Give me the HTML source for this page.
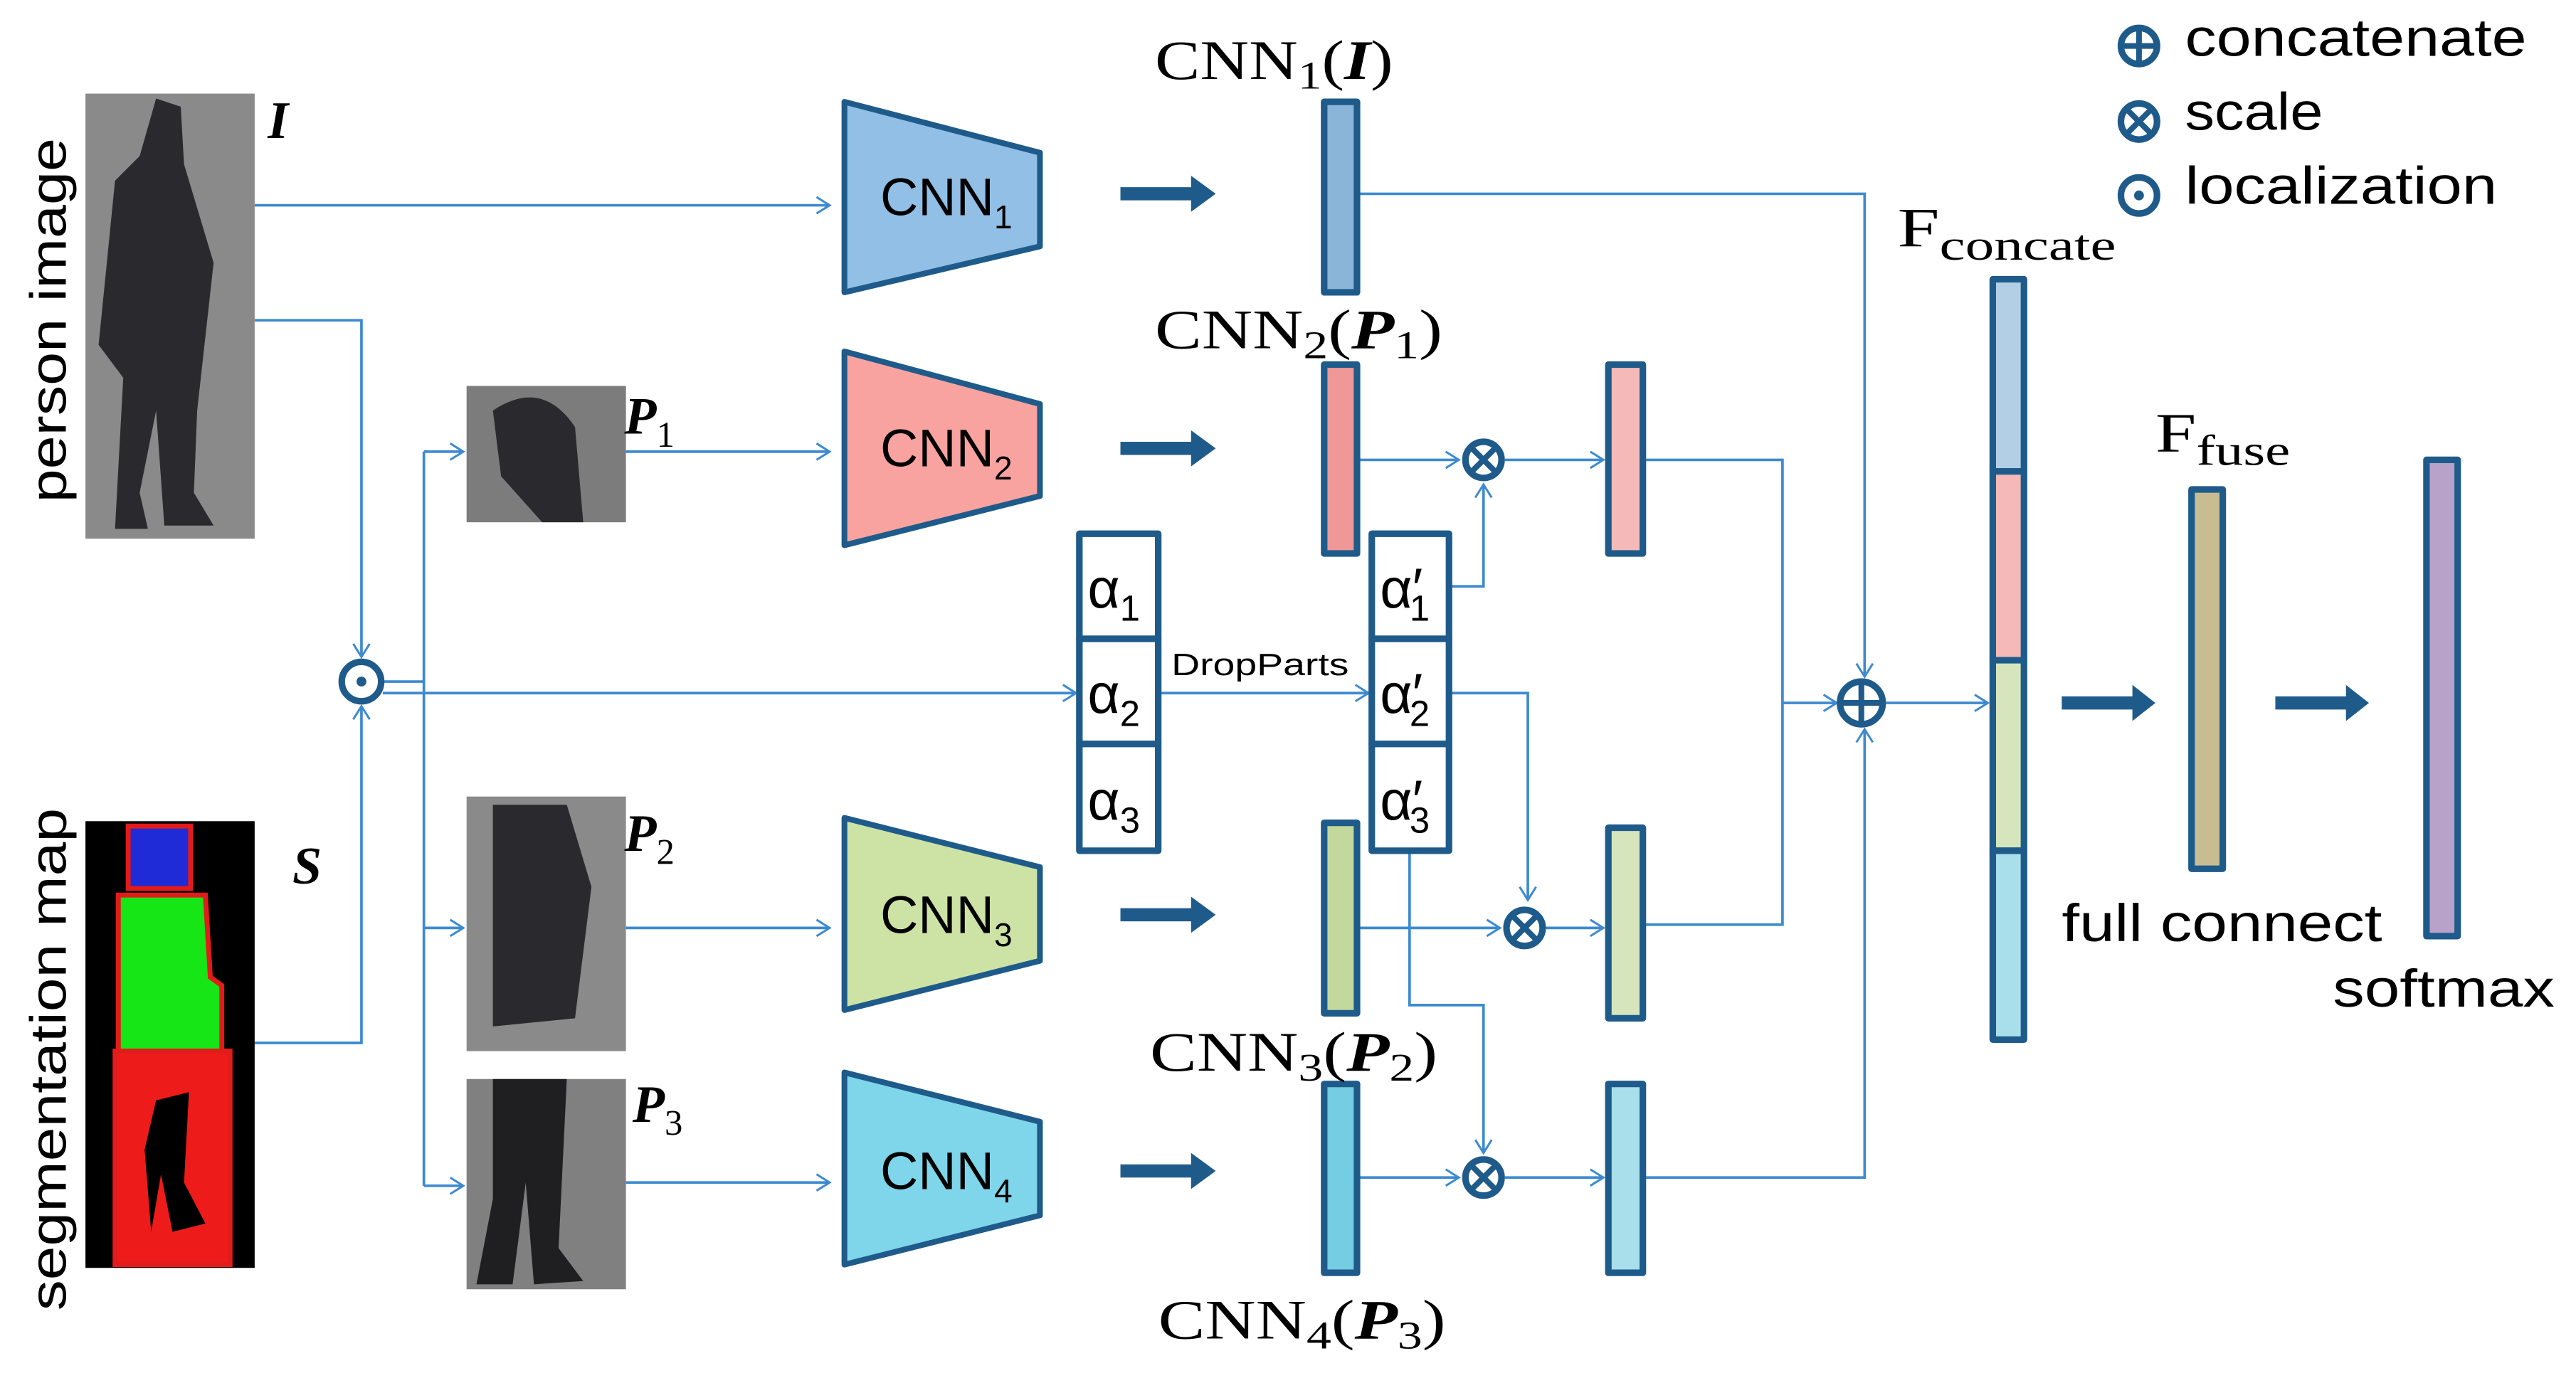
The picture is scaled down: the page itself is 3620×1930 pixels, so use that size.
<!DOCTYPE html>
<html><head><meta charset="utf-8"><style>
html,body{margin:0;padding:0;background:#fff;width:3620px;height:1930px;overflow:hidden}
svg{display:block}
.s{font-family:"Liberation Sans",sans-serif}
.r{font-family:"Liberation Serif",serif}
</style></head><body>
<svg width="3620" height="1930" viewBox="0 0 1568 836" xmlns="http://www.w3.org/2000/svg">
<defs>
<marker id="a" markerWidth="12" markerHeight="12" refX="10" refY="6" orient="auto" markerUnits="userSpaceOnUse">
<polyline points="2,1 10,6 2,11" fill="none" stroke="#3d8ad0" stroke-width="1.3"/></marker>
</defs>
<g fill="none" stroke="#3d8ad0" stroke-width="1.6">
<polyline points="155,125 505,125" marker-end="url(#a)"/>
<polyline points="155,195 220,195 220,400" marker-end="url(#a)"/>
<polyline points="155,635 220,635 220,430" marker-end="url(#a)"/>
<polyline points="233,415 258,415"/>
<polyline points="258,275 258,722"/>
<polyline points="258,275 282,275" marker-end="url(#a)"/>
<polyline points="258,565 282,565" marker-end="url(#a)"/>
<polyline points="258,722 282,722" marker-end="url(#a)"/>
<polyline points="233,422 655,422" marker-end="url(#a)"/>
<polyline points="381,275 505,275" marker-end="url(#a)"/>
<polyline points="381,565 505,565" marker-end="url(#a)"/>
<polyline points="381,720 505,720" marker-end="url(#a)"/>
<polyline points="705,422 833,422" marker-end="url(#a)"/>
<polyline points="826,118 1135,118 1135,412" marker-end="url(#a)"/>
<polyline points="826,280 888,280" marker-end="url(#a)"/>
<polyline points="916,280 976,280" marker-end="url(#a)"/>
<polyline points="882,357 903,357 903,295" marker-end="url(#a)"/>
<polyline points="882,422 930,422 930,548" marker-end="url(#a)"/>
<polyline points="858,518 858,612 903,612 903,702" marker-end="url(#a)"/>
<polyline points="826,565 913,565" marker-end="url(#a)"/>
<polyline points="941,565 976,565" marker-end="url(#a)"/>
<polyline points="826,717 888,717" marker-end="url(#a)"/>
<polyline points="916,717 976,717" marker-end="url(#a)"/>
<polyline points="1000,280 1085,280 1085,563 1000,563"/>
<polyline points="1085,428 1118,428" marker-end="url(#a)"/>
<polyline points="1000,717 1135,717 1135,444" marker-end="url(#a)"/>
<polyline points="1148,428 1210,428" marker-end="url(#a)"/>
</g>
<rect x="52" y="57" width="103" height="271" fill="#8a8a8a"/>
<path d="M95,60 L110,65 L112,100 L130,160 L120,250 L118,300 L130,320 L100,320 L95,250 L85,300 L90,322 L70,322 L75,230 L60,210 L70,110 L85,95 Z" fill="#2a2a2e"/>
<rect x="52" y="500" width="103" height="272" fill="#000"/>
<rect x="78" y="503" width="38" height="38" fill="#1e2bd6" stroke="#e21b1b" stroke-width="3"/>
<path d="M72,545 L125,545 L128,595 L135,600 L135,640 L72,640 Z" fill="#16e516" stroke="#e21b1b" stroke-width="3"/>
<path d="M70,640 L140,640 L140,770 L70,770 Z" fill="#ee1b1b" stroke="#e21b1b" stroke-width="3"/>
<path d="M95,670 L115,665 L112,720 L125,745 L105,750 L98,715 L92,750 L88,700 Z" fill="#000"/>
<rect x="284" y="235" width="97" height="83" fill="#7c7c7c"/>
<path d="M300,250 Q330,230 350,260 L355,318 L330,318 L305,290 Z" fill="#2a2a2e"/>
<rect x="284" y="485" width="97" height="155" fill="#8a8a8a"/>
<path d="M300,490 L345,490 L360,540 L350,620 L300,625 Z" fill="#2a2a2e"/>
<rect x="284" y="657" width="97" height="128" fill="#808080"/>
<path d="M300,657 L345,657 L340,760 L355,780 L325,782 L320,720 L312,782 L290,782 L300,730 Z" fill="#1f1f22"/>
<text class="s" x="0" y="0" font-size="31" textLength="222" lengthAdjust="spacingAndGlyphs" transform="translate(40,195) rotate(-90)" text-anchor="middle">person image</text>
<text class="s" x="0" y="0" font-size="31" textLength="306" lengthAdjust="spacingAndGlyphs" transform="translate(40,645) rotate(-90)" text-anchor="middle">segmentation map</text>
<g class="r" font-weight="bold" font-style="italic" font-size="32">
<text x="163" y="84">I</text><text x="178" y="538">S</text>
<text x="380" y="264">P<tspan font-size="22" font-style="normal" font-weight="normal" dy="8">1</tspan></text>
<text x="380" y="518">P<tspan font-size="22" font-style="normal" font-weight="normal" dy="8">2</tspan></text>
<text x="385" y="683">P<tspan font-size="22" font-style="normal" font-weight="normal" dy="8">3</tspan></text>
</g>
<g stroke="#1f5b8a" stroke-width="3.5" stroke-linejoin="round">
<polygon points="514,62 633,93 633,150 514,178" fill="#92bfe6"/>
<polygon points="514,214 633,246 633,302 514,332" fill="#f9a3a0"/>
<polygon points="514,498 633,528 633,585 514,615" fill="#cde3a6"/>
<polygon points="514,653 633,683 633,740 514,770" fill="#7fd6ea"/>
</g>
<g class="s" font-size="32" text-anchor="middle">
<text x="576" y="131">CNN<tspan font-size="20" dy="8">1</tspan></text>
<text x="576" y="284">CNN<tspan font-size="20" dy="8">2</tspan></text>
<text x="576" y="568">CNN<tspan font-size="20" dy="8">3</tspan></text>
<text x="576" y="724">CNN<tspan font-size="20" dy="8">4</tspan></text>
</g>
<g fill="#1f5b8a">
<polygon points="682,114 725,114 725,107 740,118 725,129 725,122 682,122"/>
<polygon points="682,269 725,269 725,262 740,273 725,284 725,277 682,277"/>
<polygon points="682,553 725,553 725,546 740,557 725,568 725,561 682,561"/>
<polygon points="682,709 725,709 725,702 740,713 725,724 725,717 682,717"/>
<polygon points="1255,424 1298,424 1298,417 1312,428 1298,439 1298,432 1255,432"/>
<polygon points="1385,424 1428,424 1428,417 1442,428 1428,439 1428,432 1385,432"/>
</g>
<g stroke="#1f5b8a" stroke-width="4" stroke-linejoin="round">
<rect x="806" y="62" width="20" height="116" fill="#8ab4d8"/>
<rect x="806" y="222" width="20" height="115" fill="#ef9897"/>
<rect x="806" y="501" width="20" height="116" fill="#c2d89c"/>
<rect x="806" y="660" width="20" height="115" fill="#74cde2"/>
<rect x="979" y="222" width="21" height="115" fill="#f5b9b8"/>
<rect x="979" y="504" width="21" height="116" fill="#d6e5bc"/>
<rect x="979" y="660" width="21" height="115" fill="#a9dfea"/>
<rect x="1213" y="170" width="19" height="117" fill="#b3cfe6"/>
<rect x="1213" y="287" width="19" height="115" fill="#f5b9b8"/>
<rect x="1213" y="402" width="19" height="116" fill="#d6e5bc"/>
<rect x="1213" y="518" width="19" height="115" fill="#a9dfea"/>
<rect x="1334" y="298" width="19" height="231" fill="#c8bc92"/>
<rect x="1477" y="280" width="19" height="290" fill="#b8a2c9"/>
<rect x="657" y="325" width="48" height="64" fill="#fff"/>
<rect x="657" y="389" width="48" height="64" fill="#fff"/>
<rect x="657" y="453" width="48" height="65" fill="#fff"/>
<rect x="835" y="325" width="47" height="64" fill="#fff"/>
<rect x="835" y="389" width="47" height="64" fill="#fff"/>
<rect x="835" y="453" width="47" height="65" fill="#fff"/>
</g>
<g class="s" font-size="34">
<text x="662" y="370">α<tspan font-size="22" dy="8">1</tspan></text>
<text x="662" y="434">α<tspan font-size="22" dy="8">2</tspan></text>
<text x="662" y="499">α<tspan font-size="22" dy="8">3</tspan></text>
<text x="840" y="370">α′<tspan font-size="22" dy="8" dx="-8">1</tspan></text>
<text x="840" y="434">α′<tspan font-size="22" dy="8" dx="-8">2</tspan></text>
<text x="840" y="499">α′<tspan font-size="22" dy="8" dx="-8">3</tspan></text>
</g>
<text class="s" x="713" y="411" font-size="19" textLength="108" lengthAdjust="spacingAndGlyphs">DropParts</text>
<g class="r" font-size="34">
<text x="703" y="48" textLength="145" lengthAdjust="spacingAndGlyphs">CNN<tspan font-size="24" dy="6">1</tspan><tspan dy="-6">(</tspan><tspan font-weight="bold" font-style="italic">I</tspan>)</text>
<text x="703" y="212" textLength="175" lengthAdjust="spacingAndGlyphs">CNN<tspan font-size="24" dy="6">2</tspan><tspan dy="-6">(</tspan><tspan font-weight="bold" font-style="italic">P</tspan><tspan font-size="24" dy="6">1</tspan><tspan dy="-6">)</tspan></text>
<text x="700" y="652" textLength="175" lengthAdjust="spacingAndGlyphs">CNN<tspan font-size="24" dy="6">3</tspan><tspan dy="-6">(</tspan><tspan font-weight="bold" font-style="italic">P</tspan><tspan font-size="24" dy="6">2</tspan><tspan dy="-6">)</tspan></text>
<text x="705" y="815" textLength="175" lengthAdjust="spacingAndGlyphs">CNN<tspan font-size="24" dy="6">4</tspan><tspan dy="-6">(</tspan><tspan font-weight="bold" font-style="italic">P</tspan><tspan font-size="24" dy="6">3</tspan><tspan dy="-6">)</tspan></text>
<text x="1155" y="150" textLength="133" lengthAdjust="spacingAndGlyphs">F<tspan font-size="26" dy="8">concate</tspan></text>
<text x="1312" y="275" textLength="82" lengthAdjust="spacingAndGlyphs">F<tspan font-size="26" dy="8">fuse</tspan></text>
</g>
<g class="s" font-size="32">
<text x="1255" y="573" textLength="195" lengthAdjust="spacingAndGlyphs">full connect</text>
<text x="1420" y="613" textLength="135" lengthAdjust="spacingAndGlyphs">softmax</text>
<text x="1330" y="34" textLength="208" lengthAdjust="spacingAndGlyphs">concatenate</text>
<text x="1330" y="79" textLength="84" lengthAdjust="spacingAndGlyphs">scale</text>
<text x="1330" y="124" textLength="190" lengthAdjust="spacingAndGlyphs">localization</text>
</g>
<g fill="#fff" stroke="#1f5b8a" stroke-width="4">
<circle cx="220" cy="415" r="12"/>
<circle cx="903" cy="280" r="11"/>
<circle cx="928" cy="565" r="11"/>
<circle cx="903" cy="717" r="11"/>
<circle cx="1133" cy="428" r="13"/>
<circle cx="1302" cy="28" r="11"/>
<circle cx="1302" cy="74" r="11"/>
<circle cx="1302" cy="119" r="11"/>
</g>
<g stroke="#1f5b8a" stroke-width="3.5">
<line x1="1120" y1="428" x2="1146" y2="428"/><line x1="1133" y1="415" x2="1133" y2="441"/>
<line x1="1291" y1="28" x2="1313" y2="28"/><line x1="1302" y1="17" x2="1302" y2="39"/>
<line x1="896" y1="273" x2="910" y2="287"/><line x1="910" y1="273" x2="896" y2="287"/>
<line x1="921" y1="558" x2="935" y2="572"/><line x1="935" y1="558" x2="921" y2="572"/>
<line x1="896" y1="710" x2="910" y2="724"/><line x1="910" y1="710" x2="896" y2="724"/>
<line x1="1295" y1="67" x2="1309" y2="81"/><line x1="1309" y1="67" x2="1295" y2="81"/>
</g>
<circle cx="220" cy="415" r="3" fill="#1f5b8a"/>
<circle cx="1302" cy="119" r="3" fill="#1f5b8a"/>
</svg>
</body></html>
